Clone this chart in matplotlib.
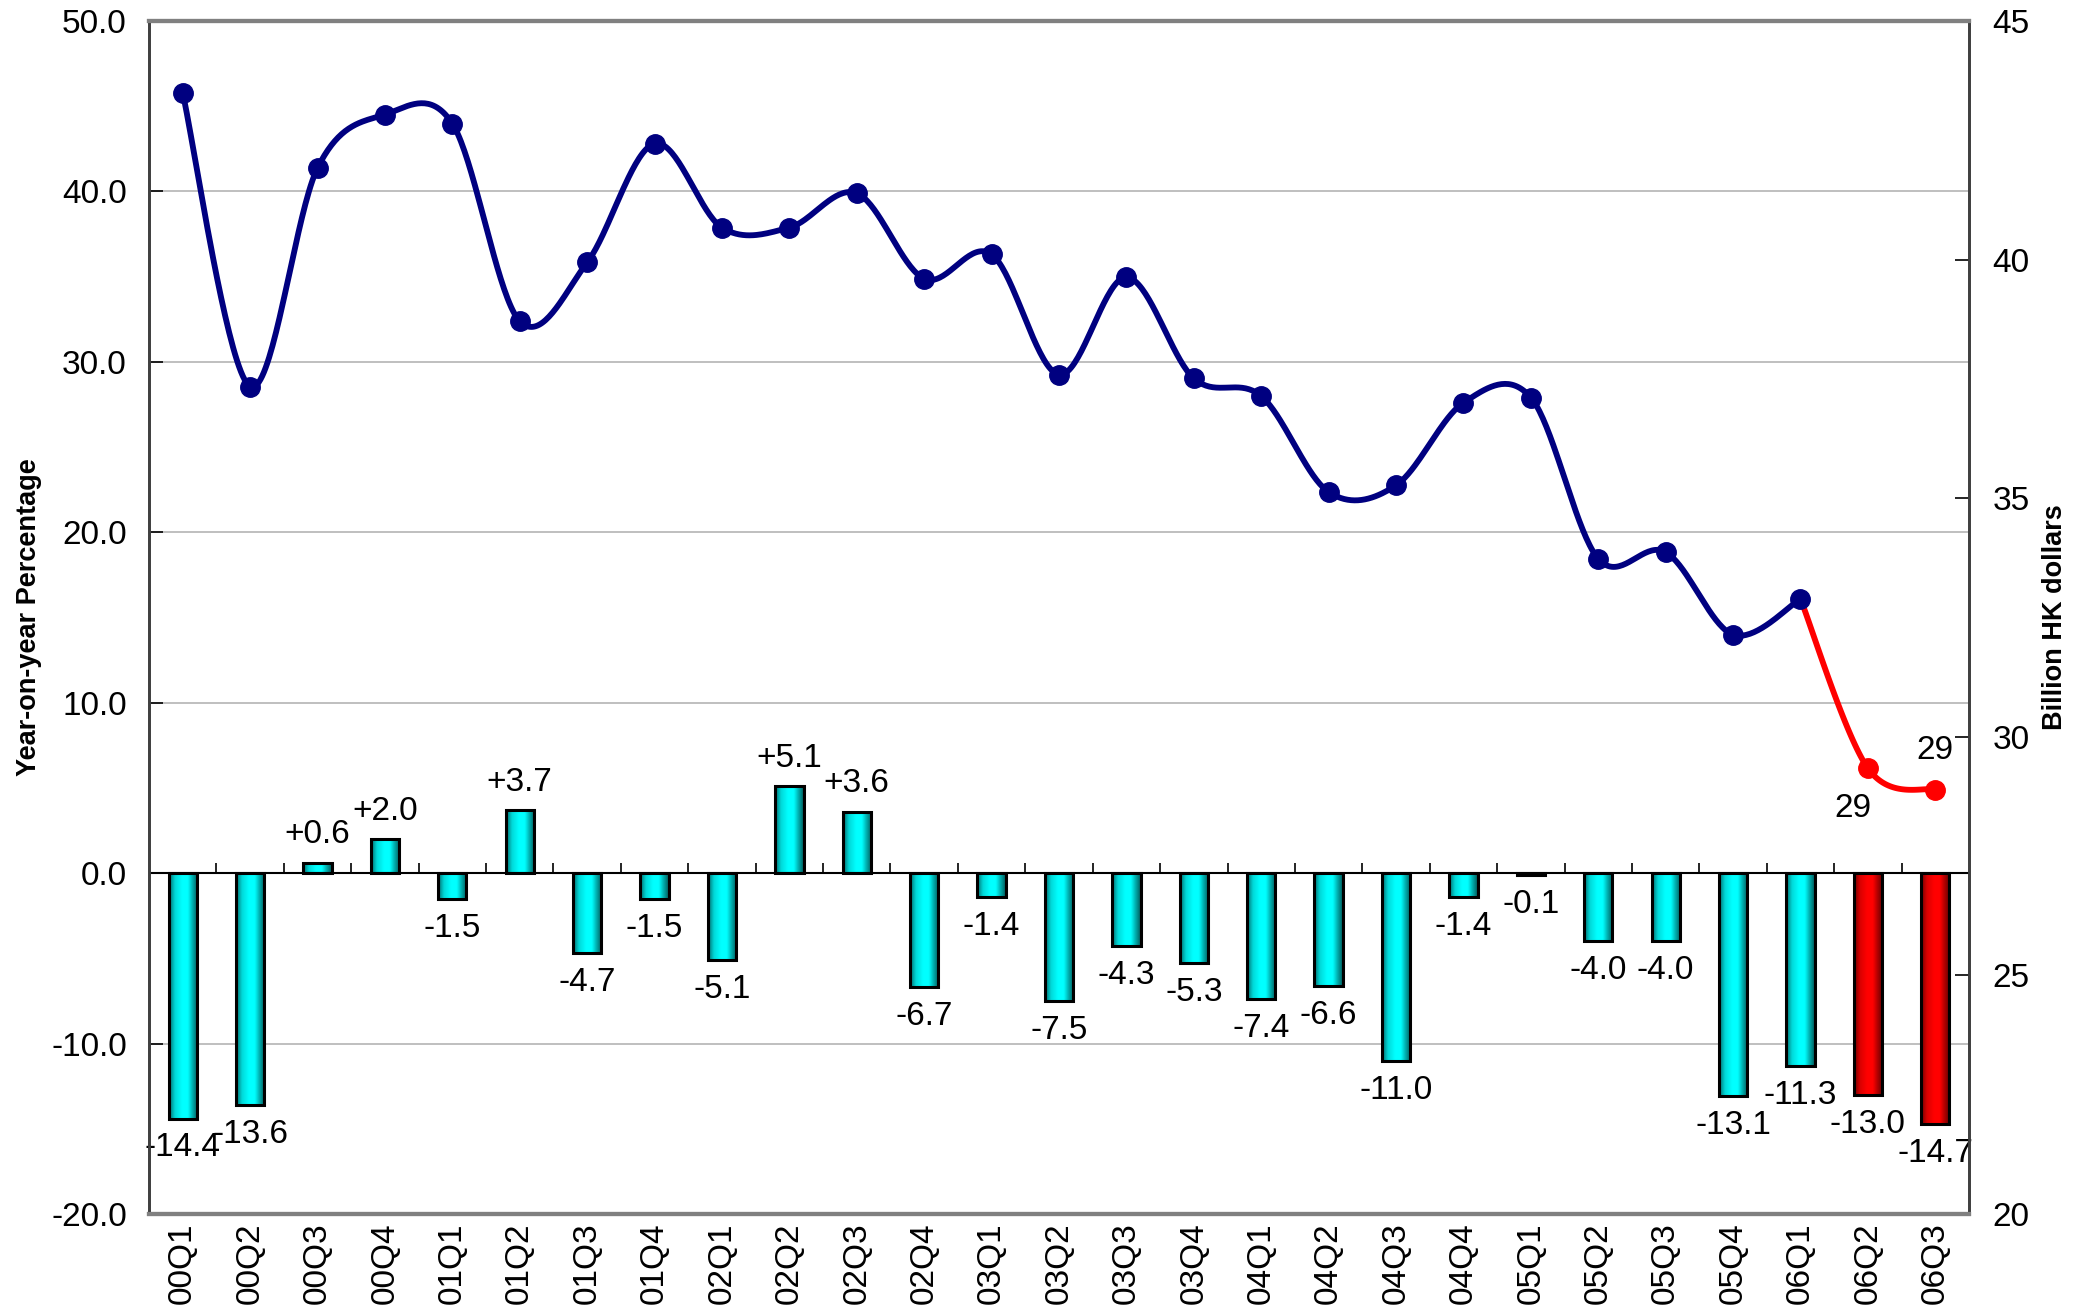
import numpy as np
import matplotlib
matplotlib.use("Agg")
import matplotlib.pyplot as plt
from matplotlib.colors import LinearSegmentedColormap

plt.rcParams['font.family'] = ['Liberation Sans', 'DejaVu Sans']

quarters = ["00Q1", "00Q2", "00Q3", "00Q4", "01Q1", "01Q2", "01Q3", "01Q4",
            "02Q1", "02Q2", "02Q3", "02Q4", "03Q1", "03Q2", "03Q3", "03Q4",
            "04Q1", "04Q2", "04Q3", "04Q4", "05Q1", "05Q2", "05Q3", "05Q4",
            "06Q1", "06Q2", "06Q3"]
yoy_pct = [-14.4, -13.6, 0.6, 2.0, -1.5, 3.7, -4.7, -1.5, -5.1, 5.1, 3.6, -6.7,
           -1.4, -7.5, -4.3, -5.3, -7.4, -6.6, -11.0, -1.4, -0.1, -4.0, -4.0,
           -13.1, -11.3, -13.0, -14.7]
value_bn = [43.49, 37.34, 41.92, 43.04, 42.85, 38.71, 39.94, 42.43, 40.67, 40.67,
            41.39, 39.60, 40.11, 37.59, 39.63, 37.51, 37.14, 35.13, 35.27, 37.00,
            37.11, 33.73, 33.87, 32.14, 32.89, 29.34, 28.89]
n_forecast = 2  # last quarters shown in red
value_labels = ["29", "29"]

n = len(quarters)
x = np.arange(n)
n_hist = n - n_forecast

FS = 24

fig = plt.figure(figsize=(20.92, 13.09), dpi=100)
ax = fig.add_axes([149/2092, 1 - 1214/1309, (1969-149)/2092, (1214-21)/1309])
ax2 = ax.twinx()

# ---- bars with gradient ----
bw = 0.42
cyan_cmap = LinearSegmentedColormap.from_list(
    "cy", [(0, "#006a6a"), (0.2, "#00d8d8"), (0.45, "#00ffff"), (0.65, "#00ffff"), (1, "#005a5a")])
red_cmap = LinearSegmentedColormap.from_list(
    "rd", [(0, "#700000"), (0.2, "#d80000"), (0.45, "#ff0000"), (0.65, "#ff0000"), (1, "#600000")])
grad = np.linspace(0, 1, 64).reshape(1, -1)
for i, v in enumerate(yoy_pct):
    cm = red_cmap if i >= n_hist else cyan_cmap
    ax.imshow(grad, cmap=cm, aspect='auto', extent=[x[i]-bw/2, x[i]+bw/2, min(0, v), max(0, v)],
              zorder=2, interpolation='bilinear')
bars = ax.bar(x, yoy_pct, width=bw, facecolor='none', edgecolor='black', linewidth=2.2, zorder=3)

for i, v in enumerate(yoy_pct):
    if v >= 0:
        ax.annotate(f"+{v:.1f}", (x[i], v), xytext=(0, 9), textcoords='offset points',
                    ha='center', va='bottom', fontsize=FS, zorder=5)
    else:
        ax.annotate(f"{v:.1f}", (x[i], v), xytext=(0, -10), textcoords='offset points',
                    ha='center', va='top', fontsize=FS, zorder=5)

ax.set_xlim(-0.5, n - 0.5)
ax.set_ylim(-20, 50)
ax.set_yticks(np.arange(-20, 51, 10))
ax.set_yticklabels([f"{t:.1f}" for t in np.arange(-20, 51, 10)], fontsize=FS)
for t in [-10, 10, 20, 30, 40]:
    ax.axhline(t, color='#b4b4b4', linewidth=1.2, zorder=0)
ax.axhline(0, color='black', linewidth=1.5, zorder=4)
ax.vlines(np.arange(n - 1) + 0.5, 0, 0.6, color='black', linewidth=1.2, zorder=4)
ax.set_xticks(x)
ax.set_xticklabels(quarters, rotation=90, fontsize=FS)
ax.tick_params(axis='x', length=0, pad=6)
ax.tick_params(axis='y', direction='in', length=10, width=1.2, pad=16)
ax.set_ylabel("Year-on-year Percentage", fontsize=19.5, fontweight='bold')
ax.yaxis.set_label_coords(-0.059, 0.5)

# ---- smooth line (Excel-style Bezier smoothing) ----
def smooth(xs, ys, steps=40):
    xs = np.asarray(xs, float); ys = np.asarray(ys, float)
    P = np.column_stack([xs, ys])
    out = [P[0]]
    m = len(P)
    for i in range(m - 1):
        p0 = P[i - 1] if i > 0 else P[i]
        p1, p2 = P[i], P[i + 1]
        p3 = P[i + 2] if i + 2 < m else P[i + 1]
        c1 = p1 + (p2 - p0) / 6
        c2 = p2 - (p3 - p1) / 6
        t = np.linspace(0, 1, steps)[1:, None]
        seg = (1-t)**3*p1 + 3*(1-t)**2*t*c1 + 3*(1-t)*t**2*c2 + t**3*p2
        out.extend(seg)
    out = np.array(out)
    return out[:, 0], out[:, 1]

sx, sy = smooth(x[:n_hist], value_bn[:n_hist])
ax2.plot(sx, sy, color='#000080', linewidth=4.2, zorder=3, solid_capstyle='round')
ax2.plot(x[:n_hist], value_bn[:n_hist], 'o', color='#000080', markersize=14, zorder=4)
rx, ry = smooth(x[n_hist-1:], value_bn[n_hist-1:])
ax2.plot(rx, ry, color='#ff0000', linewidth=4.2, zorder=3, solid_capstyle='round')
ax2.plot(x[n_hist:], value_bn[n_hist:], 'o', color='#ff0000', markersize=14, zorder=4)

ax2.annotate(value_labels[0], (x[n_hist], value_bn[n_hist]), xytext=(-11, -18),
             textcoords='offset points', ha='center', va='top', fontsize=FS)
ax2.annotate(value_labels[1], (x[n_hist+1], value_bn[n_hist+1]), xytext=(0, 17),
             textcoords='offset points', ha='center', va='bottom', fontsize=FS)

ax2.set_ylim(20, 45)
ax2.set_yticks(np.arange(20, 46, 5))
ax2.set_yticklabels([str(t) for t in np.arange(20, 46, 5)], fontsize=FS)
ax2.tick_params(axis='y', direction='in', length=10, width=1.2, pad=17)
ax2.set_ylabel("Billion HK dollars", fontsize=19.5, fontweight='bold')
ax2.yaxis.set_label_coords(1.040, 0.5)

for a in (ax, ax2):
    a.spines['top'].set_color('#808080'); a.spines['top'].set_linewidth(3)
    a.spines['bottom'].set_color('#808080'); a.spines['bottom'].set_linewidth(3)
    a.spines['left'].set_color('#404040'); a.spines['left'].set_linewidth(2)
    a.spines['right'].set_color('#404040'); a.spines['right'].set_linewidth(2)

ax.set_zorder(1); ax2.set_zorder(2)
ax2.patch.set_visible(False)

fig.savefig("out.png", dpi=100)
